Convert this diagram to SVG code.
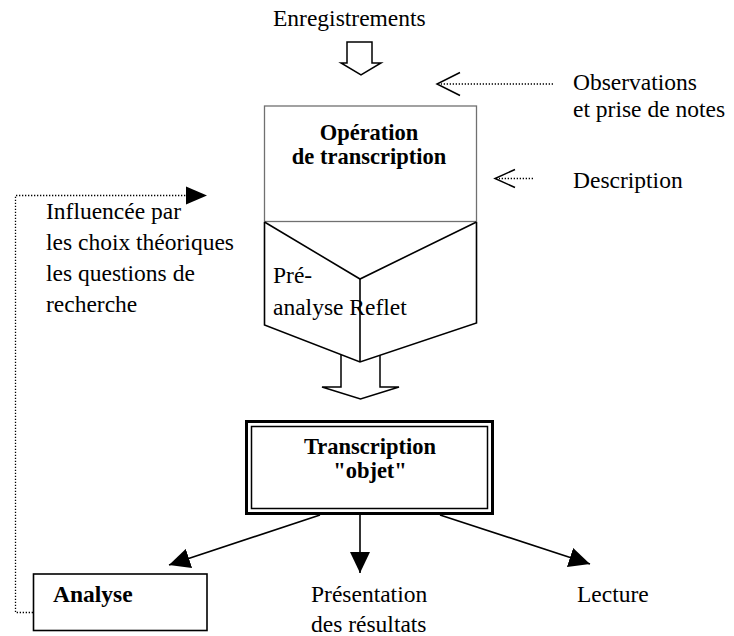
<svg xmlns="http://www.w3.org/2000/svg" width="734" height="636" viewBox="0 0 734 636">
<defs>
<style>
text{font-family:"Liberation Serif","Times New Roman",serif;font-size:23.5px;fill:#000}
.b{font-weight:bold}
.bb{font-weight:bold;font-size:22.5px}
.m{text-anchor:middle}
.ln{fill:none;stroke:#000;stroke-width:1.6}
.dot{fill:none;stroke:#000;stroke-width:1.3;stroke-dasharray:1.3 1.7}
.open{fill:none;stroke:#000;stroke-width:1.5}
.hollow{fill:#fff;stroke:#000;stroke-width:1.5;stroke-linejoin:miter}
</style>
<marker id="ah" markerUnits="userSpaceOnUse" markerWidth="21" markerHeight="20" refX="21" refY="10" orient="auto">
<path d="M0,0 L21,10 L0,20 Z" fill="#000"/>
</marker>
</defs>
<rect width="734" height="636" fill="#fff"/>

<g id="enregistrements">
<text x="273" y="26">Enregistrements</text>
<polygon class="hollow" points="347,42 372,42 372,63 381,63 361,75 341,63 347,63"/>
</g>

<g id="observations">
<text x="573" y="90">Observations</text>
<text x="573" y="117">et prise de notes</text>
</g>

<g id="description">
<text x="573" y="188">Description</text>
</g>

<g id="operation">
<rect x="264.5" y="106" width="212" height="115.5" fill="#fff" stroke="#707070" stroke-width="1.3"/>
<text class="bb m" x="369" y="140">Opération</text>
<text class="bb m" x="369" y="164">de transcription</text>
</g>

<g id="funnel">
<polyline class="ln" points="264.5,222 360,279 476.5,222"/>
<polyline class="ln" points="264.5,222 264.5,325 360,362 476.5,323 476.5,222"/>
<line class="ln" x1="360" y1="279" x2="360" y2="362"/>
<text x="273" y="283">Pré-</text>
<text x="273" y="315">analyse Reflet</text>
</g>

<g id="influence">
<text x="46" y="219">Influencée par</text>
<text x="46" y="250">les choix théoriques</text>
<text x="46" y="281">les questions de</text>
<text x="46" y="312">recherche</text>
</g>

<g id="transcription-objet">
<rect x="246.5" y="421.5" width="246" height="92" fill="#fff" stroke="#000" stroke-width="3"/>
<rect x="251.5" y="426.5" width="236" height="82" fill="none" stroke="#000" stroke-width="1.5"/>
<text class="bb m" x="370" y="454">Transcription</text>
<text class="bb m" x="370" y="478">"objet"</text>
</g>

<g id="analyse">
<rect x="33.5" y="574" width="173.5" height="56.5" fill="#fff" stroke="#000" stroke-width="1.6"/>
<text class="b" x="53" y="602">Analyse</text>
</g>

<g id="presentation">
<text x="311" y="602">Présentation</text>
<text x="311" y="632">des résultats</text>
</g>

<g id="lecture">
<text x="577" y="602">Lecture</text>
</g>

<g id="connectors">
<polyline class="open" points="341,355 341,387 322,387 360.5,399 399,387 380,387 380,355"/>
<line class="dot" x1="553" y1="84" x2="441" y2="84"/>
<polyline class="open" points="460,72.5 437,84 460,95.5"/>
<line class="dot" x1="533" y1="178.5" x2="499" y2="178.5"/>
<polyline class="open" points="515,169.5 495,178.5 515,187.5"/>
<polyline class="dot" points="33,612.5 15.5,612.5 15.5,195.5 187,195.5"/>
<polygon points="186,186.5 207,195.5 186,204.5" fill="#000"/>
<line class="ln" x1="320" y1="515" x2="169" y2="565" marker-end="url(#ah)"/>
<line class="ln" x1="360" y1="515" x2="360" y2="573" marker-end="url(#ah)"/>
<line class="ln" x1="440" y1="515" x2="590" y2="564" marker-end="url(#ah)"/>
</g>
</svg>
